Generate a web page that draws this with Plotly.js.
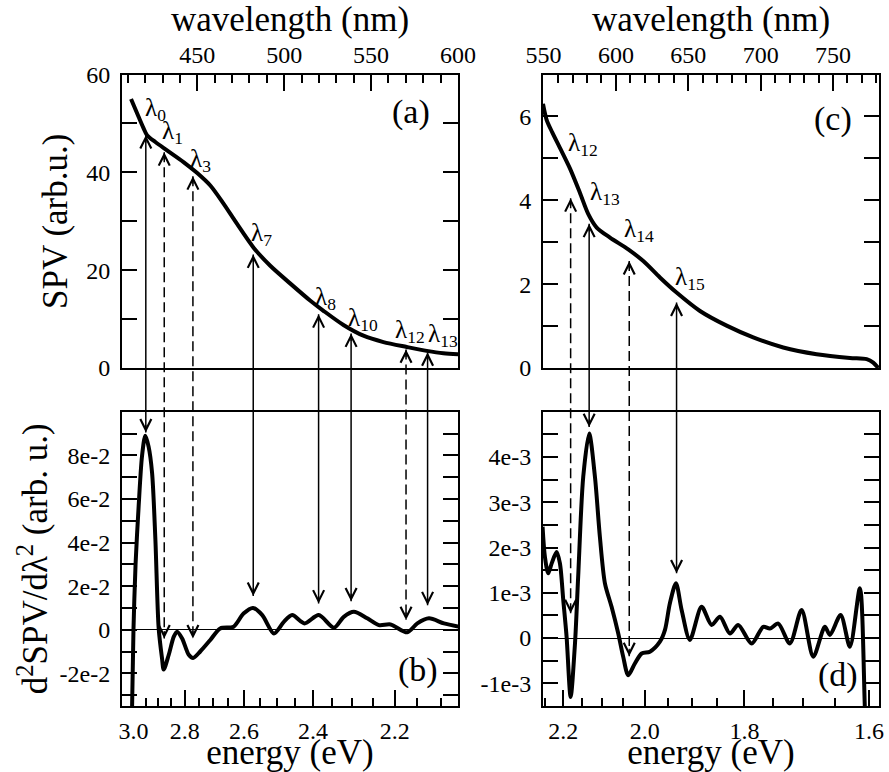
<!DOCTYPE html>
<html><head><meta charset="utf-8">
<script src="https://cdn.plot.ly/plotly-3.0.1.min.js"></script>
<style>html,body{margin:0;padding:0;background:#fff}</style>
</head><body><div id="chart" style="width:889px;height:772px"></div>
<script>
// ---------- data ----------
const HC = 1239.84; // eV*nm
// Panel (a): SPV vs wavelength
const wlA = [411.9, 416.3, 419.0, 421.1, 425.9, 432.6, 442.1, 449.8, 457.5, 465.1, 472.8, 482.4, 492.0, 503.4, 514.9, 522.6, 534.1, 545.6, 557.1, 570.5, 582.0, 591.6, 600.2];
const spvA = [55.0, 51.3, 49.1, 47.6, 46.2, 44.5, 42.1, 39.9, 37.3, 33.6, 29.5, 24.6, 20.9, 17.3, 13.8, 11.7, 8.8, 6.6, 5.3, 4.3, 3.5, 3.0, 2.8];
// Panel (b): second derivative
const wlB = [412.4, 413.3, 414.5, 416.3, 418.2, 420.1, 422.0, 424.0, 425.9, 427.8, 429.7, 430.7, 433.6, 436.5, 438.4, 441.3, 445.1, 447.6, 451.7, 457.5, 463.2, 470.9, 476.6, 482.0, 487.4, 494.1, 499.8, 504.6, 511.7, 519.9, 528.6, 534.3, 540.1, 547.8, 554.5, 561.2, 570.8, 576.6, 583.3, 591.9, 600.5];
const d2B = [-0.040, 0.0, 0.030, 0.057, 0.0795, 0.089, 0.084, 0.072, 0.0415, 0.0006, -0.013, -0.0183, -0.0115, -0.0032, -0.0009, -0.0040, -0.0115, -0.0130, -0.0100, -0.0047, 0.0006, 0.0014, 0.0074, 0.0100, 0.0067, -0.0017, 0.0036, 0.0067, 0.0029, 0.0067, 0.0009, 0.0059, 0.0082, 0.0052, 0.0021, 0.0024, -0.0012, 0.0029, 0.0052, 0.0029, 0.0014];
// Panel (c)
const wlC = [549.6, 552.1, 556.0, 561.3, 568.2, 575.1, 580.9, 586.7, 595.9, 608.5, 618.9, 630.4, 641.9, 658.1, 676.5, 694.9, 715.6, 738.7, 761.7, 773.3, 777.8, 781.3];
const spvC = [6.30, 5.92, 5.62, 5.25, 4.76, 4.18, 3.67, 3.35, 3.11, 2.83, 2.55, 2.16, 1.80, 1.36, 1.01, 0.73, 0.49, 0.33, 0.24, 0.21, 0.13, 0.0];
// Panel (d)
const wlD = [549.3, 550.9, 553.2, 555.6, 559.0, 561.3, 563.6, 565.9, 568.7, 571.7, 573.9, 577.4, 581.5, 585.5, 588.9, 592.4, 597.0, 601.6, 605.0, 608.5, 613.1, 617.8, 623.5, 630.4, 633.9, 637.3, 641.5, 645.4, 651.1, 659.2, 666.1, 671.9, 678.8, 684.5, 693.8, 701.8, 706.4, 712.2, 720.2, 728.3, 736.4, 744.4, 747.9, 755.3, 761.7, 768.6, 772.1, 774.0];
const d2D = [0.00246, 0.0018, 0.00143, 0.00165, 0.0019, 0.00165, 0.00084, 0.00003, -0.0013, -0.00012, 0.00135, 0.00356, 0.00452, 0.00356, 0.00224, 0.00121, 0.00069, 0.0001, -0.00041, -0.00082, -0.00056, -0.00034, -0.0003, -0.00008, 0.00018, 0.00077, 0.00121, 0.00062, -0.00004, 0.00069, 0.00029, 0.00047, 0.0001, 0.00029, -0.00012, 0.00025, 0.00021, 0.00032, -0.00012, 0.00062, -0.00041, 0.00025, 0.00007, 0.00051, -0.00019, 0.0011, -0.0016, -0.003];

// Marked transitions, left column
const markNamesL = ['0', '1', '3', '7', '8', '10', '12', '13'];
const markWlL = [420.4, 431.0, 447.5, 482.2, 519.8, 538.5, 570.1, 582.5];
const markTopL = [47.6, 44.1, 39.2, 23.2, 11.0, 7.07, 3.8, 3.2];
const markBotL = [0.0905, -0.004, -0.004, 0.0155, 0.012, 0.013, 0.0044, 0.0112];
const markDashL = [false, true, true, false, false, false, true, false];
const labelWlL = [419.0, 428.7, 444.8, 479.9, 516.7, 535.6, 562.6, 581.6];
const labelValL = [52.9, 48.1, 42.4, 27.3, 14.3, 10.0, 7.4, 6.7];
// right column
const markNamesR = ['12', '13', '14', '15'];
const markWlR = [568.7, 581.5, 609.2, 641.9];
const markTopR = [4.05, 3.44, 2.55, 1.56];
const markBotR = [0.00055, 0.00466, -0.0004, 0.00143];
const markDashR = [true, false, true, false];
const labelWlR = [565.4, 580.6, 604.1, 639.4];
const labelValR = [5.32, 4.17, 3.27, 2.13];

// axis ticks
const wlTicksL = [450, 500, 550, 600];
const wlTicksR = [550, 600, 650, 700, 750];
const eTicksL = [3.0, 2.8, 2.6, 2.4, 2.2];
const eTicksR = [2.2, 2.0, 1.8, 1.6];
const yTicksA = [0, 20, 40, 60];
const yTicksC = [0, 2, 4, 6];
const yTicksB = [-0.02, 0, 0.02, 0.04, 0.06, 0.08];
const yTextB = ['-2e-2', '0', '2e-2', '4e-2', '6e-2', '8e-2'];
const yTicksD = [-0.001, 0, 0.001, 0.002, 0.003, 0.004];
const yTextD = ['-1e-3', '0', '1e-3', '2e-3', '3e-3', '4e-3'];

// ---------- layout helpers ----------
const W = 889, H = 772;
const FONT = 'Liberation Serif';
const fx = p => p / W, fy = p => 1 - p / H;
const domXL = [fx(122), fx(458)], domXR = [fx(543), fx(879)];
const domYT = [fy(368), fy(74.5)], domYB = [fy(706), fy(411.7)];
const rngXL = [406.7, 600.0], rngXR = [549.6, 781.8];
const rngYA = [0, 60], rngYB = [-0.035, 0.1], rngYC = [0, 7], rngYD = [-0.0015, 0.005];

function seq(a, b, s) { const r = []; for (let v = a; v <= b + 1e-9; v += s) r.push(+v.toFixed(6)); return r; }
const toPaper = (v, rng, dom) => dom[0] + (v - rng[0]) / (rng[1] - rng[0]) * (dom[1] - dom[0]);

const mkFont = s => ({family: FONT, size: s, color: '#000'});

function xAx(dom, rng, anchor, side, vals, text, minorVals, title, standoff, labelOff) {
  return {domain: dom, range: rng, anchor: anchor, side: side, tickmode: 'array', tickvals: vals, ticktext: text,
    ticks: 'inside', ticklen: 16, tickwidth: 1.5, tickcolor: '#000',
    minor: {tickmode: 'array', tickvals: minorVals, ticks: 'inside', ticklen: 8, tickwidth: 1.5, tickcolor: '#000', showgrid: false},
    showline: true, linewidth: 2, linecolor: '#000', mirror: true, showgrid: false, zeroline: false,
    tickfont: mkFont(24), ticklabelstandoff: labelOff,
    title: {text: title, font: mkFont(35), standoff: standoff}};
}
function yAx(dom, rng, anchor, vals, text, minorVals, zero, title, standoff) {
  const a = {domain: dom, range: rng, anchor: anchor, tickmode: 'array', tickvals: vals, ticktext: text,
    ticks: 'inside', ticklen: 15, tickwidth: 1.5, tickcolor: '#000',
    minor: {tickmode: 'array', tickvals: minorVals, ticks: 'inside', ticklen: 15, tickwidth: 1.5, tickcolor: '#000', showgrid: false},
    showline: true, linewidth: 2, linecolor: '#000', mirror: 'ticks', showgrid: false,
    zeroline: zero, zerolinecolor: '#000', zerolinewidth: 1.2,
    tickfont: mkFont(24), ticklabelstandoff: 5};
  if (title) a.title = {text: title, font: mkFont(35), standoff: standoff};
  return a;
}

const eMinorL = seq(2.1, 3.05, 0.05).map(e => HC / e);
const eMinorR = seq(1.6, 2.25, 0.05).map(e => HC / e);

const layout = {
  width: W, height: H, margin: {l: 0, r: 0, t: 0, b: 0, pad: 0},
  paper_bgcolor: '#fff', plot_bgcolor: '#fff', showlegend: false,
  font: mkFont(24),
  xaxis: xAx(domXL, rngXL, 'y', 'top', wlTicksL, wlTicksL.map(String), seq(410, 590, 10), 'wavelength (nm)', 0, 0),
  xaxis2: xAx(domXL, rngXL, 'y2', 'bottom', eTicksL.map(e => HC / e), eTicksL.map(e => e.toFixed(1)), eMinorL, 'energy (eV)', 4, 2),
  xaxis3: xAx(domXR, rngXR, 'y3', 'top', wlTicksR, wlTicksR.map(String), seq(560, 780, 10), 'wavelength (nm)', 0, 0),
  xaxis4: xAx(domXR, rngXR, 'y4', 'bottom', eTicksR.map(e => HC / e), eTicksR.map(e => e.toFixed(1)), eMinorR, 'energy (eV)', 4, 2),
  yaxis: yAx(domYT, rngYA, 'x', yTicksA, yTicksA.map(String), [10, 30, 50], false, 'SPV (arb.u.)', 8),
  yaxis2: yAx(domYB, rngYB, 'x2', yTicksB, yTextB, seq(-0.03, 0.09, 0.02), true, 'd<sup>2</sup>SPV/dλ<sup>2</sup> (arb. u.)', 1),
  yaxis3: yAx(domYT, rngYC, 'x3', yTicksC, yTicksC.map(String), [1, 3, 5, 7], false, null, 0),
  yaxis4: yAx(domYB, rngYD, 'x4', yTicksD, yTextD, seq(-0.0005, 0.0045, 0.001), true, null, 0),
  shapes: [], annotations: []
};

function addMarks(names, wl, topV, botV, dashed, xref, rTop, rBot) {
  names.forEach((n, i) => {
    const y0 = toPaper(topV[i], rTop, domYT), y1 = toPaper(botV[i], rBot, domYB);
    layout.shapes.push({type: 'line', xref: xref, yref: 'paper', x0: wl[i], x1: wl[i], y0: y0, y1: y1,
      line: {color: '#000', width: 1.5, dash: dashed[i] ? '10px,5px' : 'solid'}});
    const head = {xref: xref, yref: 'paper', x: wl[i], text: '', showarrow: true, arrowhead: 5, arrowsize: 1.8,
      arrowwidth: 1.2, arrowcolor: '#000', standoff: 0, ax: 0};
    layout.annotations.push(Object.assign({}, head, {y: y0, ay: 9}));
    layout.annotations.push(Object.assign({}, head, {y: y1, ay: -9}));
  });
}
function addLabels(names, wl, val, xref, yref) {
  names.forEach((n, i) => layout.annotations.push({xref: xref, yref: yref, x: wl[i], y: val[i],
    text: 'λ<sub>' + n + '</sub>', showarrow: false, xanchor: 'left', yanchor: 'middle',
    font: mkFont(25)}));
}
addMarks(markNamesL, markWlL, markTopL, markBotL, markDashL, 'x', rngYA, rngYB);
addMarks(markNamesR, markWlR, markTopR, markBotR, markDashR, 'x3', rngYC, rngYD);
addLabels(markNamesL, labelWlL, labelValL, 'x', 'y');
addLabels(markNamesR, labelWlR, labelValR, 'x3', 'y3');

const panelTags = [['(a)', 'x', 'y', 0.86, 0.871], ['(b)', 'x2', 'y2', 0.881, 0.122], ['(c)', 'x3', 'y3', 0.863, 0.85], ['(d)', 'x4', 'y4', 0.878, 0.105]];
panelTags.forEach(t => layout.annotations.push({xref: t[1] + ' domain', yref: t[2] + ' domain', x: t[3], y: t[4],
  text: t[0], showarrow: false, xanchor: 'center', yanchor: 'middle', font: mkFont(34)}));

const line = {color: '#000', width: 4, shape: 'spline', smoothing: 0.8};
const traces = [
  {x: wlA, y: spvA, xaxis: 'x', yaxis: 'y', mode: 'lines', line: line, hoverinfo: 'skip'},
  {x: wlB, y: d2B, xaxis: 'x2', yaxis: 'y2', mode: 'lines', line: line, hoverinfo: 'skip'},
  {x: wlC, y: spvC, xaxis: 'x3', yaxis: 'y3', mode: 'lines', line: line, hoverinfo: 'skip'},
  {x: wlD, y: d2D, xaxis: 'x4', yaxis: 'y4', mode: 'lines', line: line, hoverinfo: 'skip'}
];
Plotly.newPlot('chart', traces, layout, {displayModeBar: false});
</script></body></html>
